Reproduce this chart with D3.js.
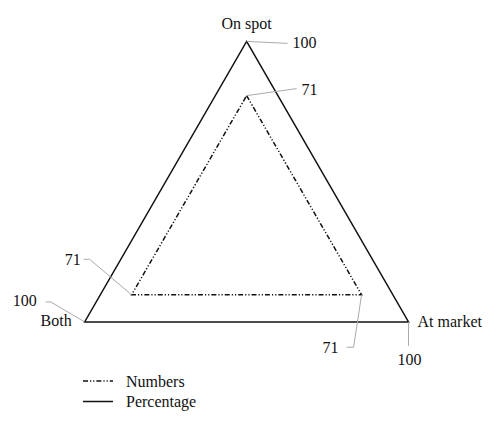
<!DOCTYPE html>
<html>
<head>
<meta charset="utf-8">
<script src="https://cdn.jsdelivr.net/npm/d3@7"></script>
<style>
  html, body { margin: 0; padding: 0; background: #fff; }
  svg text { font-family: "Liberation Serif", "DejaVu Serif", serif; font-size: 16px; fill: #111; }
</style>
</head>
<body>
<svg id="radar" width="500" height="427"></svg>
<script>
// data
const axes = ["On spot", "At market", "Both"];
const numbers = [71, 71, 71];
const percentage = [100, 100, 100];
const series_names = ["Numbers", "Percentage"];

const SVG = d3.select("#radar");
const CX = 246.6, CY = 228.4;
const R = 187;
const r_scale = d3.scaleLinear().domain([0, 100]).range([0, R]);
const a_scale = d3.scaleLinear().domain([0, axes.length]).range([0, 2 * Math.PI]);

const LINE_COR = "#111";
const LEADER_COR = "#aaa";
const DASH = "5,2,1.2,2,1.2,2";

// label placement per axis: [elbow offset, end offset, text offset, anchor]
const LABEL_OUTER = [
    [[41, 2], [41, 2], [46, 1], "start"],
    [[0, 24], [0, 24], [1, 38], "middle"],
    [[-34, -20], [-39, -20], [-48, -21], "end"]
];
const LABEL_INNER = [
    [[50, -7], [50, -7], [55, -6], "start"],
    [[-8, 52.5], [-15, 52.5], [-23, 52.5], "end"],
    [[-42, -35.5], [-48, -35.5], [-51, -35], "end"]
];
const AXIS_LABEL = [[0, -12, "middle"], [9, 5, "start"], [-13, 4, "end"]];

let g = SVG.append("g").attr("transform", `translate(${CX},${CY})`);

function point(i, v) {
    let a = a_scale(i), r = r_scale(v);
    return [r * Math.sin(a), -r * Math.cos(a)];
}

const radial = d3.lineRadial()
    .angle((d, i) => a_scale(i))
    .radius(d => r_scale(d))
    .curve(d3.curveLinearClosed);

/** 画一个系列 **/
function draw_series(values, dash, layout) {
    g.append("path")
        .attr("d", radial(values))
        .attr("fill", "none")
        .attr("stroke", LINE_COR)
        .attr("stroke-width", 1.5)
        .attr("stroke-dasharray", dash);

    values.forEach((v, i) => {
        let [x, y] = point(i, v);
        let [e, f, t, anchor] = layout[i];
        g.append("polyline")
            .attr("points", [[x, y], [x + e[0], y + e[1]], [x + f[0], y + f[1]]].map(p => p.join(",")).join(" "))
            .attr("fill", "none")
            .attr("stroke", LEADER_COR)
            .attr("stroke-width", 1);
        g.append("text")
            .attr("x", x + t[0])
            .attr("y", y + t[1])
            .attr("dy", "0.35em")
            .attr("text-anchor", anchor)
            .text(v);
    });
}

draw_series(percentage, null, LABEL_OUTER);
draw_series(numbers, DASH, LABEL_INNER);

// axis names
axes.forEach((name, i) => {
    let [x, y] = point(i, 100);
    let [dx, dy, anchor] = AXIS_LABEL[i];
    g.append("text")
        .attr("x", x + dx)
        .attr("y", y + dy)
        .attr("text-anchor", anchor)
        .text(name);
});

// legend
let legend = SVG.append("g").attr("transform", "translate(83,381)");
series_names.forEach((name, i) => {
    let row = legend.append("g").attr("transform", `translate(0,${i * 20.5})`);
    row.append("line")
        .attr("x1", 0).attr("x2", 30)
        .attr("stroke", LINE_COR)
        .attr("stroke-width", 1.5)
        .attr("stroke-dasharray", i === 0 ? DASH : null);
    row.append("text")
        .attr("x", 43)
        .attr("dy", "0.35em")
        .text(name);
});
</script>
</body>
</html>
